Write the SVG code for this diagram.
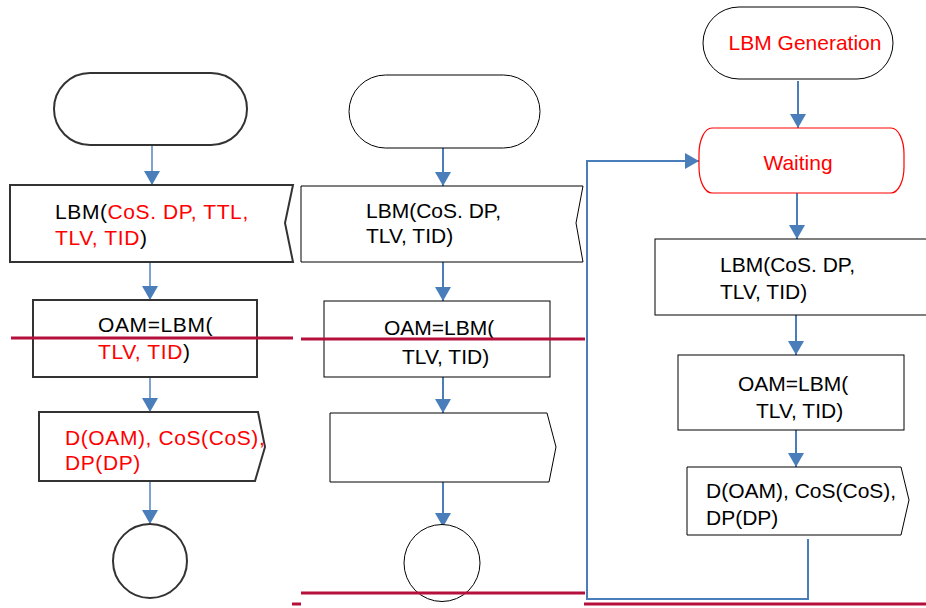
<svg xmlns="http://www.w3.org/2000/svg" width="926" height="608" viewBox="0 0 926 608">
<defs>
<style>
.t{font-family:"Liberation Sans",Arial,sans-serif;font-size:21px;fill:#000}
.w{letter-spacing:0.6px}
.r{fill:#ff0000}
.s1{fill:#fff;stroke:#333;stroke-width:2}
.s2{fill:#fff;stroke:#000;stroke-width:1}
.c{fill:none;stroke:#4a7ebb;stroke-width:2}
.cl{fill:none;stroke:#7fa3d0;stroke-width:2}
.red{fill:none;stroke:#b5103c;stroke-width:3}
</style>
<marker id="ah" markerWidth="14" markerHeight="16" refX="14" refY="8" orient="auto" markerUnits="userSpaceOnUse">
<path d="M0,0 L14,8 L0,16 Z" fill="#4a7ebb"/>
</marker>
</defs>
<g id="connectors">
<line class="cl" x1="152" y1="145" x2="152" y2="185" marker-end="url(#ah)"/>
<line class="cl" x1="150" y1="262" x2="150" y2="300" marker-end="url(#ah)"/>
<line class="cl" x1="150" y1="377" x2="150" y2="412" marker-end="url(#ah)"/>
<line class="cl" x1="150" y1="482" x2="150" y2="524" marker-end="url(#ah)"/>
<line class="c" x1="443" y1="148" x2="443" y2="186" marker-end="url(#ah)"/>
<line class="c" x1="443" y1="262" x2="443" y2="301" marker-end="url(#ah)"/>
<line class="c" x1="443" y1="377" x2="443" y2="413" marker-end="url(#ah)"/>
<line class="c" x1="443" y1="482" x2="443" y2="527" marker-end="url(#ah)"/>
<line class="c" x1="798" y1="81" x2="798" y2="128" marker-end="url(#ah)"/>
<line class="c" x1="797" y1="193" x2="797" y2="239" marker-end="url(#ah)"/>
<line class="c" x1="796" y1="315" x2="796" y2="355" marker-end="url(#ah)"/>
<line class="c" x1="796" y1="430" x2="796" y2="467" marker-end="url(#ah)"/>
<polyline class="c" points="808,539 808,599 587,599 587,161 699,161" marker-end="url(#ah)"/>
</g>
<g id="left-start"><rect class="s1" x="54" y="73" width="193" height="72" rx="36" ry="36"/></g>
<g id="left-lbm">
<path class="s1" d="M10,185 L293,185 L285,223 L293,262 L10,262 Z"/>
<text class="t w" x="55" y="219">LBM(<tspan class="r">CoS. DP, TTL,</tspan></text>
<text class="t w" x="55" y="245"><tspan class="r">TLV, TID</tspan>)</text>
</g>
<g id="left-oam">
<rect class="s1" x="33" y="300" width="224" height="77"/>
<text class="t w" x="98" y="332">OAM=LBM(</text>
<text class="t w" x="98" y="359"><tspan class="r">TLV, TID</tspan>)</text>
</g>
<g id="left-out">
<path class="s1" d="M39,412 L258,412 L265,447 L255,481 L39,481 Z"/>
<text class="t w r" x="65" y="445">D(OAM), CoS(CoS),</text>
<text class="t w r" x="65" y="470">DP(DP)</text>
</g>
<g id="left-end"><circle class="s1" cx="150" cy="561" r="37"/></g>
<g id="mid-start"><rect class="s2" x="349" y="75" width="191" height="73" rx="36.5" ry="36.5"/></g>
<g id="mid-lbm">
<path class="s2" d="M301,186 L583,186 L576,223 L583,262 L301,262 Z"/>
<text class="t" x="366" y="218">LBM(CoS. DP,</text>
<text class="t" x="366" y="243">TLV, TID)</text>
</g>
<g id="mid-oam">
<rect class="s2" x="324" y="301" width="226" height="76"/>
<text class="t" x="384" y="335">OAM=LBM(</text>
<text class="t" x="402" y="364">TLV, TID)</text>
</g>
<g id="mid-out"><path class="s2" d="M330,413 L547,413 L556,447 L549,482 L330,482 Z"/></g>
<g id="mid-end"><ellipse class="s2" cx="442" cy="563" rx="38" ry="38.5"/></g>
<g id="right-start">
<rect class="s2" x="703" y="7" width="190" height="72" rx="36" ry="36"/>
<text class="t r" x="805" y="50" text-anchor="middle">LBM Generation</text>
</g>
<g id="right-wait">
<rect x="699" y="128" width="205" height="65" rx="13" ry="26" fill="#fff" stroke="#ff0000" stroke-width="1.2"/>
<text class="t r" x="798" y="170" text-anchor="middle">Waiting</text>
</g>
<g id="right-lbm">
<rect class="s2" x="655" y="239" width="280" height="76"/>
<text class="t" x="720" y="272">LBM(CoS. DP,</text>
<text class="t" x="720" y="299">TLV, TID)</text>
</g>
<g id="right-oam">
<rect class="s2" x="678" y="355" width="226" height="75"/>
<text class="t" x="738" y="391">OAM=LBM(</text>
<text class="t" x="756" y="418">TLV, TID)</text>
</g>
<g id="right-out">
<path class="s2" d="M687,467 L901,467 L909,500 L901,535 L687,535 Z"/>
<text class="t" x="706" y="498">D(OAM), CoS(CoS),</text>
<text class="t" x="706" y="525">DP(DP)</text>
</g>
<g id="red-lines">
<line class="red" x1="11" y1="338" x2="293" y2="338"/>
<line class="red" x1="301" y1="339" x2="585" y2="339"/>
<line class="red" x1="301" y1="593" x2="585" y2="593"/>
<line class="red" x1="292" y1="604" x2="301" y2="604"/>
<line class="red" x1="584" y1="604" x2="926" y2="604"/>
</g>
</svg>
